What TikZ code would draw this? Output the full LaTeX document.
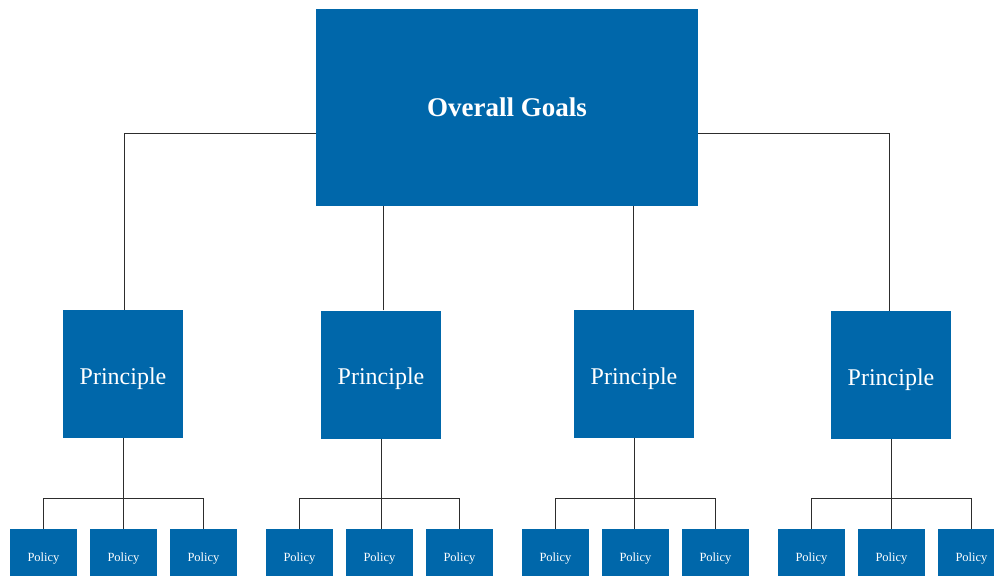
\documentclass[tikz,border=0pt]{standalone}
\usepackage{fontspec}
\setmainfont{Liberation Serif}
\usetikzlibrary{calc}
\definecolor{boxblue}{RGB}{0,103,170}
\definecolor{linegray}{RGB}{45,45,45}
\tikzset{
  goalbox/.style={fill=boxblue, text=white, inner sep=0pt,
    minimum width=382pt, minimum height=197pt,
    text height=18.4pt, text depth=0pt,
    font=\fontsize{27}{32}\selectfont\bfseries},
  princbox/.style={fill=boxblue, text=white, inner sep=0pt,
    minimum width=120pt, minimum height=128pt,
    text height=20pt, text depth=0pt,
    font=\fontsize{24}{28}\selectfont},
  polbox/.style={fill=boxblue, text=white, inner sep=0pt,
    minimum width=67pt, minimum height=54pt,
    text height=11pt, text depth=0pt,
    font=\fontsize{12.5}{14}\selectfont},
  link/.style={draw=linegray, line width=0.8pt}
}
\begin{document}
\begin{tikzpicture}[x=1pt,y=-1pt]
  \useasboundingbox (0,0) rectangle (994,576);
  \clip (0,0) rectangle (994,576);

  % top level
  \node[goalbox] (goals) at (507,107.5) {Overall Goals};

  % principles
  \node[princbox] (p1) at (123,374)   {Principle};
  \node[princbox] (p2) at (381,374.5) {Principle};
  \node[princbox] (p3) at (634,374)   {Principle};
  \node[princbox] (p4) at (891,375)   {Principle};

  % policies, three under each principle
  \foreach \g in {1,2,3,4}{
    \foreach \k in {1,2,3}{
      \pgfmathsetmacro{\cx}{10+256*(\g-1)+80*(\k-1)+33.5}
      \node[polbox] (q\g\k) at (\cx,556) {Policy};
    }
  }

  % goals to principles
  \coordinate (gl) at (316,133);
  \coordinate (gr) at (698,133);
  \draw[link] (gl) -| (p1.north -| 124,0);
  \draw[link] (gr) -| (p4.north -| 889,0);
  \draw[link] (p2.north -| 383,0) -- (goals.south -| 383,0);
  \draw[link] (p3.north -| 633,0) -- (goals.south -| 633,0);

  % principles to policies
  \foreach \g in {1,2,3,4}{
    \coordinate (bar\g) at ($(q\g2.north)+(0,-30)$);
  }
  \foreach \g in {1,2,3,4}{
    \draw[link] (p\g.south) -- (p\g.south |- q\g2.north);
    \draw[link] (q\g1.north) |- (bar\g) -| (q\g3.north);
  }
\end{tikzpicture}
\end{document}
